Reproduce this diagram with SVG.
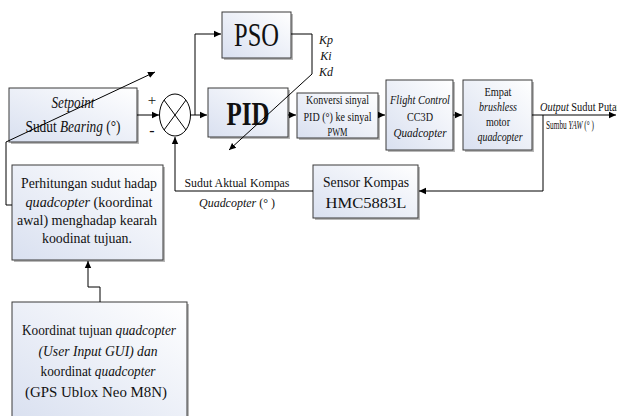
<svg xmlns="http://www.w3.org/2000/svg" width="617" height="416" viewBox="0 0 617 416">
<style>
.box{fill:url(#g);stroke:#3a3a3a;stroke-width:1}
.sh{fill:#b8b8b8}
.ln{fill:none;stroke:#000;stroke-width:1}
.ar{fill:none;stroke:#000;stroke-width:1;marker-end:url(#ah)}
text{font-family:'Liberation Serif','DejaVu Serif',serif;fill:#111;text-anchor:middle}
.i{font-style:italic}
</style>
<defs>
<linearGradient id="g" x1="0" y1="1" x2="1" y2="0">
<stop offset="0" stop-color="#d9e0f0"/>
<stop offset="1" stop-color="#ffffff"/>
</linearGradient>
<marker id="ah" markerWidth="8" markerHeight="8" refX="7" refY="4" orient="auto" markerUnits="userSpaceOnUse">
<path d="M0,0.8 L7,4 L0,7.2 Z" fill="#000"/>
</marker>
</defs>
<rect width="617" height="416" fill="#fff"/>

<g id="setpoint">
<rect class="sh" x="11" y="90" width="128" height="54"/>
<rect class="box" x="9" y="88" width="128" height="54"/>
<text class="i" x="73" y="108" font-size="16" textLength="43" lengthAdjust="spacingAndGlyphs">Setpoint</text>
<text x="73" y="132" font-size="16" textLength="95" lengthAdjust="spacingAndGlyphs">Sudut <tspan class="i">Bearing</tspan> (°)</text>
</g>

<g id="pso">
<rect class="sh" x="224" y="14" width="69" height="46"/>
<rect class="box" x="222" y="12" width="69" height="46"/>
<text x="256.5" y="46" font-size="34" textLength="45" lengthAdjust="spacingAndGlyphs">PSO</text>
</g>

<g id="gains">
<text class="i" x="326" y="44" font-size="12">Kp</text>
<text class="i" x="326" y="60" font-size="12">Ki</text>
<text class="i" x="326" y="76" font-size="12">Kd</text>
</g>

<g id="pid">
<rect class="sh" x="210" y="90" width="80" height="49"/>
<rect class="box" x="208" y="88" width="80" height="49"/>
<text x="248" y="125" font-size="34" font-weight="bold" textLength="43" lengthAdjust="spacingAndGlyphs">PID</text>
</g>

<g id="konversi">
<rect class="sh" x="299" y="95" width="81" height="45"/>
<rect class="box" x="297" y="93" width="81" height="45"/>
<text x="337.5" y="104" font-size="12" textLength="63" lengthAdjust="spacingAndGlyphs">Konversi sinyal</text>
<text x="337.5" y="121" font-size="12" textLength="68" lengthAdjust="spacingAndGlyphs">PID (°) ke sinyal</text>
<text x="337.5" y="136" font-size="12" textLength="20" lengthAdjust="spacingAndGlyphs">PWM</text>
</g>

<g id="flight">
<rect class="sh" x="388" y="82" width="67" height="70"/>
<rect class="box" x="386" y="80" width="67" height="70"/>
<text class="i" x="420" y="104" font-size="12" textLength="60" lengthAdjust="spacingAndGlyphs">Flight Control</text>
<text x="420" y="121" font-size="12" textLength="26" lengthAdjust="spacingAndGlyphs">CC3D</text>
<text class="i" x="420" y="137" font-size="12" textLength="53" lengthAdjust="spacingAndGlyphs">Quadcopter</text>
</g>

<g id="motor">
<rect class="sh" x="465" y="82" width="69" height="70"/>
<rect class="box" x="463" y="80" width="69" height="70"/>
<text x="498" y="96" font-size="11.5" textLength="27" lengthAdjust="spacingAndGlyphs">Empat</text>
<text class="i" x="498" y="111" font-size="11.5" textLength="38" lengthAdjust="spacingAndGlyphs">brushless</text>
<text x="498" y="126" font-size="11.5" textLength="24" lengthAdjust="spacingAndGlyphs">motor</text>
<text class="i" x="500" y="141" font-size="11.5" textLength="45" lengthAdjust="spacingAndGlyphs">quadcopter</text>
</g>

<g id="output">
<text x="540" y="111" font-size="11.5" style="text-anchor:start" textLength="80" lengthAdjust="spacingAndGlyphs"><tspan class="i">Output</tspan> Sudut Putar</text>
<text x="546" y="129" font-size="11.5" style="text-anchor:start" textLength="48" lengthAdjust="spacingAndGlyphs">Sumbu <tspan class="i">YAW</tspan> (° )</text>
</g>

<g id="sensor">
<rect class="sh" x="315" y="167" width="105" height="53"/>
<rect class="box" x="313" y="165" width="105" height="53"/>
<text x="366" y="187" font-size="15" textLength="86" lengthAdjust="spacingAndGlyphs">Sensor Kompas</text>
<text x="366" y="208" font-size="15" textLength="81" lengthAdjust="spacingAndGlyphs">HMC5883L</text>
</g>

<g id="feedback-label">
<text x="237" y="187" font-size="13" textLength="105" lengthAdjust="spacingAndGlyphs">Sudut Aktual Kompas</text>
<text x="237" y="207" font-size="13" textLength="76" lengthAdjust="spacingAndGlyphs"><tspan class="i">Quadcopter</tspan> (° )</text>
</g>

<g id="perhitungan">
<rect class="sh" x="14" y="167" width="151" height="95"/>
<rect class="box" x="12" y="165" width="151" height="95"/>
<text x="89" y="188" font-size="15" textLength="136" lengthAdjust="spacingAndGlyphs">Perhitungan sudut hadap</text>
<text x="89" y="207" font-size="15" textLength="127" lengthAdjust="spacingAndGlyphs"><tspan class="i">quadcopter</tspan> (koordinat</text>
<text x="87" y="225" font-size="15" textLength="140" lengthAdjust="spacingAndGlyphs">awal) menghadap kearah</text>
<text x="87" y="243" font-size="15" textLength="90" lengthAdjust="spacingAndGlyphs">koodinat tujuan.</text>
</g>

<g id="koordinat">
<rect class="sh" x="14" y="304" width="175" height="120"/>
<rect class="box" x="12" y="302" width="175" height="120"/>
<text x="99" y="335" font-size="15" textLength="154" lengthAdjust="spacingAndGlyphs">Koordinat tujuan <tspan class="i">quadcopter</tspan></text>
<text class="i" x="98" y="356" font-size="15" textLength="119" lengthAdjust="spacingAndGlyphs">(User Input GUI) dan</text>
<text x="98" y="376" font-size="15" textLength="115" lengthAdjust="spacingAndGlyphs">koordinat <tspan class="i">quadcopter</tspan></text>
<text x="96" y="397" font-size="15" textLength="142" lengthAdjust="spacingAndGlyphs">(GPS Ublox Neo M8N)</text>
</g>

<g id="connectors">
<path class="ar" d="M137,115 H159"/>
<path class="ar" d="M190,115 H207"/>
<path class="ar" d="M195,115 V34 H221"/>
<path class="ln" d="M291,34 H312 V74"/>
<path class="ar" d="M312,74 L229,150"/>
<path class="ar" d="M288,115 H296"/>
<path class="ar" d="M378,115 H385"/>
<path class="ar" d="M453,115 H462"/>
<path class="ar" d="M532,115 H616"/>
<path class="ar" d="M543,115 V191 H419"/>
<path class="ar" d="M313,191 H175 V137"/>
<path class="ar" d="M6,142 L155,72"/>
<path class="ln" d="M6,142 V205 H12"/>
<path class="ar" d="M100,302 V287 H88 V261"/>
</g>

<g id="sum">
<ellipse cx="175" cy="115" rx="15.5" ry="21" fill="#fff" stroke="#000" stroke-width="1"/>
<path class="ln" d="M164,100 L186,130 M186,100 L164,130"/>
<text x="152" y="105" font-size="15">+</text>
<text x="152" y="136" font-size="16">-</text>
</g>
</svg>
